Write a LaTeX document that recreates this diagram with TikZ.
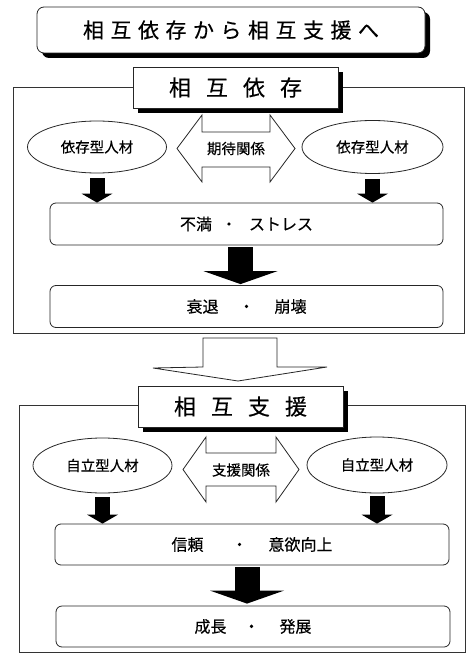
\documentclass[tikz,border=0pt]{standalone}
\usepackage{fontspec}
\setmainfont{Noto Sans CJK JP}[FakeBold=0.35]
\usetikzlibrary{shapes.geometric,arrows.meta,calc,shadows}
\newcommand\gapA{\hspace{6.5pt}}
\newcommand\gapB{\hspace{15pt}}
\begin{document}
\begin{tikzpicture}[x=1pt,y=-1pt,line width=0.8pt,
  blkshadow/.style={drop shadow={shadow xshift=5pt,shadow yshift=-5pt,fill=black,opacity=1}},
  titlebox/.style={draw=black!85,rounded corners=7pt,fill=white,minimum width=388pt,minimum height=46pt,inner sep=0pt,font=\fontsize{21}{25}\selectfont,blkshadow},
  headbox/.style={draw=black!85,fill=white,minimum width=205pt,minimum height=41pt,inner sep=0pt,font=\fontsize{22}{26}\selectfont,blkshadow},
  person/.style={draw=black!85,ellipse,fill=white,inner sep=0pt,font=\fontsize{14.5}{17}\selectfont},
  result/.style={draw=black!85,rounded corners=6pt,minimum width=393pt,minimum height=42pt,inner sep=0pt,font=\fontsize{16}{19}\selectfont},
  relation/.style={inner sep=0pt,font=\fontsize{14.5}{17}\selectfont},
  hollow/.style={draw=black!85,fill=white,line join=miter},
  framebox/.style={draw=black!80},
  smallarr/.style={line width=15pt,-{Triangle[width=31pt,length=9pt,line width=0pt]}},
  bigarr/.style={line width=25pt,-{Triangle[width=74pt,length=13pt,line width=0pt]}}
]
\useasboundingbox (0,0) rectangle (466,668);

% ---------- title ----------
\node[titlebox] (title) at (231,30) {相\gapA 互\gapA 依\gapA 存\gapA か\gapA ら\gapA 相\gapA 互\gapA 支\gapA 援\gapA へ};

% ---------- section 1 ----------
\draw[framebox] (13,87) rectangle (464,333);
\node[headbox] (h1) at (235.5,87.5) {相\gapB 互\gapB 依\gapB 存};

\node[person,minimum width=139pt,minimum height=52pt] (e1) at (97,147) {依存型人材};
\node[person,minimum width=141pt,minimum height=53pt] (e2) at (372.5,147) {依存型人材};

\draw[hollow] (177,148.5) -- (202,115) -- (202,132) -- (270,132) -- (270,115) -- (295,148.5)
  -- (270,182) -- (270,167) -- (202,167) -- (202,182) -- cycle;
\node[relation] (r1) at (236,148.5) {期待関係};

\node[result] (b1) at (246.5,224) {不満\hspace{9pt}・\hspace{12pt}ストレス};
\node[result] (b2) at (246.5,306.5) {衰退\hspace{20pt}・\hspace{20pt}崩壊};

\draw[smallarr] ($(e1.south)+(0,5)$) -- (e1.south |- b1.north);
\draw[smallarr] ($(e2.south)+(0,5)$) -- (e2.south |- b1.north);
\draw[bigarr] ($(b1.south)+(-6,2)$) -- ($(b2.north)+(-6,-1)$);

% ---------- transition ----------
\draw[hollow] (203,338) -- (277,338) -- (277,367) -- (327,367) -- (238,381) -- (153,368) -- (203,367) -- cycle;

% ---------- section 2 ----------
\draw[framebox] (19,405) rectangle (465.5,652);
\node[headbox] (h2) at (240.5,406.5) {相\gapB 互\gapB 支\gapB 援};

\node[person,minimum width=139pt,minimum height=55pt] (e3) at (102.5,465.5) {自立型人材};
\node[person,minimum width=140pt,minimum height=56pt] (e4) at (377,465) {自立型人材};

\draw[hollow] (183,469.5) -- (206,437) -- (206,453) -- (276,453) -- (276,437) -- (299,469.5)
  -- (276,502) -- (276,486) -- (206,486) -- (206,502) -- cycle;
\node[relation] (r2) at (241,470) {支援関係};

\node[result,minimum width=394pt,minimum height=41pt] (b3) at (252,544.5) {信頼\hspace{28pt}・\hspace{21pt}意欲向上};
\node[result,minimum width=394pt,minimum height=41pt] (b4) at (253,626.5) {成長\hspace{17pt}・\hspace{20pt}発展};

\draw[smallarr] ($(e3.south)+(0,4)$) -- (e3.south |- b3.north);
\draw[smallarr] ($(e4.south)+(0,3)$) -- (e4.south |- b3.north);
\draw[bigarr] ($(b3.south)+(-5,2)$) -- ($(b4.north)+(-6,-2)$);
\end{tikzpicture}
\end{document}
